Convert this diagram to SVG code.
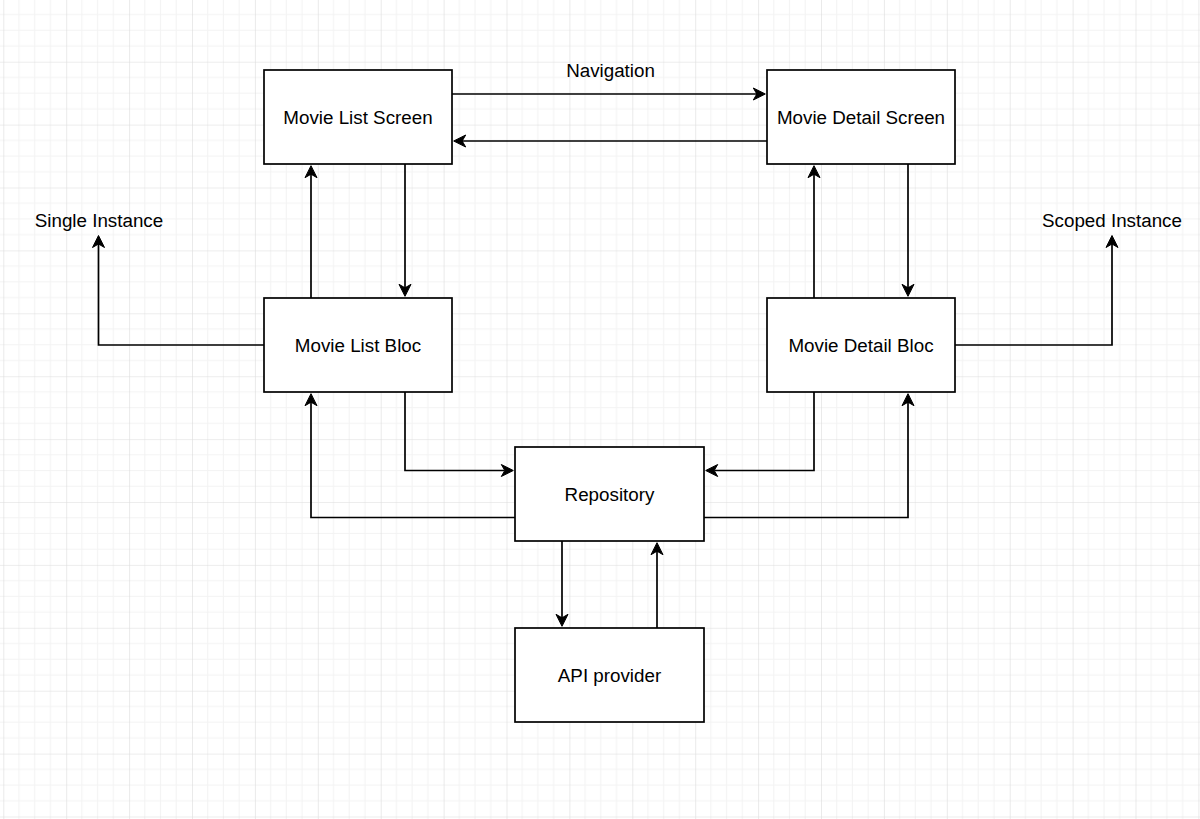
<svg xmlns="http://www.w3.org/2000/svg" width="1200" height="819" viewBox="0 0 1200 819">
  <defs>
    <pattern id="grid" patternUnits="userSpaceOnUse" x="3.3" y="-1.2" width="62.9" height="62.9">
      <rect width="62.9" height="62.9" fill="#ffffff"/>
      <path d="M15.725,0 V62.9 M31.45,0 V62.9 M47.175,0 V62.9 M0,15.725 H62.9 M0,31.45 H62.9 M0,47.175 H62.9" stroke="#f3f3f3" stroke-width="1" fill="none"/>
      <path d="M0,0 V62.9 M0,0 H62.9" stroke="#dcdcdc" stroke-width="1.2" fill="none"/>
    </pattern>
    <marker id="arr" viewBox="-5 -8 16 16" refX="0" refY="0" markerWidth="16" markerHeight="16" markerUnits="userSpaceOnUse" orient="auto">
      <path d="M8.5,0 L-3.5,-6 L0,0 L-3.5,6 Z" fill="#000000" stroke="#000000" stroke-width="1" stroke-linejoin="miter"/>
    </marker>
    <style>
      .box { fill: #ffffff; stroke: #000000; stroke-width: 1.7; }
      .lbl { font-family: "Liberation Sans", Arial, Helvetica, sans-serif; font-size: 18.8px; fill: #000000; text-anchor: middle; }
      .edge { fill: none; stroke: #000000; stroke-width: 1.7; marker-end: url(#arr); }
    </style>
  </defs>
  <rect width="1200" height="819" fill="url(#grid)"/>

  <g id="connectors">
    <path class="edge" d="M452,94 H756.8"/>
    <path class="edge" d="M767,141 H462.2"/>
    <path class="edge" d="M405,164 V287.8"/>
    <path class="edge" d="M311,298 V174.2"/>
    <path class="edge" d="M814,298 V174.2"/>
    <path class="edge" d="M908,164 V287.8"/>
    <path class="edge" d="M264,345 H98.5 V244"/>
    <path class="edge" d="M955,345 H1112 V244"/>
    <path class="edge" d="M405,392 V470.5 H504.8"/>
    <path class="edge" d="M515,517.5 H311 V402.2"/>
    <path class="edge" d="M814,392 V470.5 H714.2"/>
    <path class="edge" d="M704,517.5 H908 V402.2"/>
    <path class="edge" d="M562,541 V617.8"/>
    <path class="edge" d="M657,628 V551.2"/>
  </g>

  <g id="labels">
    <text class="lbl" x="610.5" y="77">Navigation</text>
    <text class="lbl" x="99" y="226.7">Single Instance</text>
    <text class="lbl" x="1112" y="226.7">Scoped Instance</text>
  </g>

  <g id="movie-list-screen">
    <rect class="box" x="264" y="70" width="188" height="94"/>
    <text class="lbl" x="358" y="123.8">Movie List Screen</text>
  </g>
  <g id="movie-detail-screen">
    <rect class="box" x="767" y="70" width="188" height="94"/>
    <text class="lbl" x="861" y="123.8">Movie Detail Screen</text>
  </g>
  <g id="movie-list-bloc">
    <rect class="box" x="264" y="298" width="188" height="94"/>
    <text class="lbl" x="358" y="351.8">Movie List Bloc</text>
  </g>
  <g id="movie-detail-bloc">
    <rect class="box" x="767" y="298" width="188" height="94"/>
    <text class="lbl" x="861" y="351.8">Movie Detail Bloc</text>
  </g>
  <g id="repository">
    <rect class="box" x="515" y="447" width="189" height="94"/>
    <text class="lbl" x="609.5" y="500.8">Repository</text>
  </g>
  <g id="api-provider">
    <rect class="box" x="515" y="628" width="189" height="94"/>
    <text class="lbl" x="609.5" y="681.8">API provider</text>
  </g>
</svg>
